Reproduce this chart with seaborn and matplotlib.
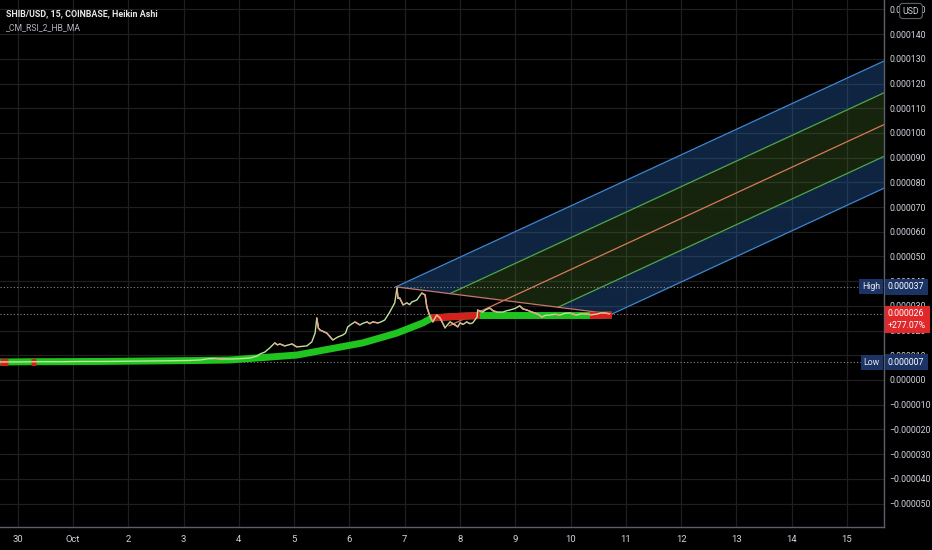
#!/usr/bin/env python3
"""SHIB/USD 15m Heikin Ashi chart with MA ribbon and a pitchfork, TradingView dark style."""

import matplotlib
matplotlib.use("Agg")
import matplotlib.pyplot as plt
import matplotlib.transforms as mtransforms
from matplotlib.ticker import FixedLocator, FuncFormatter
import pandas as pd
import seaborn as sns

# ---- data (days since Oct 1 00:00, price in USD) ----
price_day = [-1.32, -1.0, -0.6, -0.2, 0.2, 0.6, 1.0, 1.4, 1.8, 2.1, 2.3, 2.45, 2.57, 2.7,
             2.84, 3.0, 3.2, 3.33, 3.38, 3.47, 3.56, 3.65, 3.70, 3.74, 3.83, 3.90, 3.96,
             4.05, 4.14, 4.23, 4.32, 4.38, 4.41, 4.44, 4.47, 4.53, 4.59, 4.65, 4.70, 4.79,
             4.88, 4.93, 4.97, 5.03, 5.10, 5.19, 5.25, 5.32, 5.37, 5.42, 5.52, 5.58, 5.64,
             5.73, 5.82, 5.86, 5.88, 5.91, 5.97, 6.04, 6.09, 6.13, 6.18, 6.22, 6.31, 6.37,
             6.40, 6.46, 6.51, 6.58, 6.64, 6.73, 6.78, 6.82, 6.91, 6.96, 7.00, 7.06, 7.12,
             7.18, 7.23, 7.31, 7.32, 7.41, 7.47, 7.54, 7.60, 7.67, 7.78, 7.84, 7.90, 8.00,
             8.08, 8.14, 8.21, 8.35, 8.42, 8.48, 8.55, 8.63, 8.72, 8.81, 8.90, 8.99, 9.05,
             9.11, 9.20, 9.29, 9.38, 9.48, 9.55, 9.62, 9.71]
price_val = [0.73, 0.73, 0.74, 0.74, 0.75, 0.75, 0.76, 0.77, 0.78, 0.79, 0.81, 0.86, 0.87, 0.85,
             0.85, 0.86, 0.89, 0.97, 1.05, 1.13, 1.30, 1.50, 1.42, 1.46, 1.38, 1.42, 1.46,
             1.34, 1.36, 1.38, 1.54, 1.90, 2.51, 2.10, 2.02, 1.96, 1.90, 1.75, 1.62, 1.74,
             1.82, 1.90, 2.15, 2.25, 2.35, 2.23, 2.30, 2.35, 2.28, 2.35, 2.31, 2.36, 2.43,
             2.75, 3.12, 3.72, 3.30, 3.32, 3.04, 3.12, 3.05, 3.16, 3.20, 3.24, 3.52, 3.44,
             2.96, 2.55, 2.35, 2.63, 2.51, 2.11, 2.25, 2.35, 2.23, 2.15, 2.31, 2.25, 2.35,
             2.28, 2.31, 2.55, 2.83, 2.75, 2.85, 2.91, 2.80, 2.75, 2.75, 2.80, 2.83, 2.90,
             3.00, 2.88, 2.83, 2.71, 2.65, 2.55, 2.62, 2.63, 2.66, 2.63, 2.70, 2.71, 2.66,
             2.63, 2.68, 2.67, 2.64, 2.67, 2.72, 2.71, 2.68]
price_val = [v * 1e-5 for v in price_val]

ma_day = [-1.32, -1.18, -0.76, -0.67, 0.49, 2.30, 2.84, 4.05, 5.24, 5.86, 6.33, 6.49,
          6.91, 7.36, 8.26, 9.35, 9.75]
ma_val = [0.73, 0.73, 0.74, 0.74, 0.75, 0.79, 0.81, 1.01, 1.50, 1.90, 2.31, 2.51,
          2.57, 2.61, 2.61, 2.61, 2.63]
ma_val = [v * 1e-5 for v in ma_val]
# colour of each MA segment: True = green, False = red
ma_green = [False, True, False, True, True, True, True, True, True, True, True,
            False, False, True, True, False]

# pitchfork anchors: handle, top, bottom
fork_day = [6.80, 5.84, 9.75]
fork_val = [2.19e-5, 3.77e-5, 2.67e-5]

level_high = 3.77e-5
level_last = 2.68e-5
level_low = 0.71e-5

x_ticks = list(range(-1, 15))
x_labels = ["30", "Oct", "2", "3", "4", "5", "6", "7", "8", "9", "10", "11", "12", "13", "14", "15"]
y_ticks = [i * 1e-5 for i in range(-5, 16)]

# ---- style ----
BG = "#000000"
GRID = "#1f1f1f"
TXT = "#d1d4dc"
FS = 6.3
sns.set_theme(style="dark", rc={"axes.facecolor": BG, "figure.facecolor": BG})
plt.rcParams["font.family"] = ["Roboto", "DejaVu Sans"]

fig = plt.figure(figsize=(9.32, 5.5), dpi=100)
ax = fig.add_axes([0, 23 / 550, 884 / 932, 527 / 550])
ax.set_xlim(-1.32, 14.67)
ax.set_ylim(-5.95e-5, 15.38e-5)

ax.xaxis.set_major_locator(FixedLocator(x_ticks))
ax.xaxis.set_major_formatter(FuncFormatter(lambda v, p: x_labels[x_ticks.index(int(round(v)))]))
ax.yaxis.set_major_locator(FixedLocator(y_ticks))
ax.yaxis.set_major_formatter(FuncFormatter(
    lambda v, p: ("\u2212" if v < -1e-12 else "") + f"{abs(v):.6f}"))
ax.yaxis.tick_right()
ax.tick_params(axis="both", length=0, labelsize=FS, labelcolor=TXT)
ax.tick_params(axis="y", pad=4)
ax.tick_params(axis="x", pad=6, labelsize=6.8)
ax.grid(True, color=GRID, lw=0.9)
ax.set_axisbelow(True)
for side in ["left", "top"]:
    ax.spines[side].set_visible(False)
for side in ["right", "bottom"]:
    ax.spines[side].set_color("#5d606b")
    ax.spines[side].set_linewidth(1)

# ---- pitchfork ----
p1 = (fork_day[0], fork_val[0])
p2 = (fork_day[1], fork_val[1])
p3 = (fork_day[2], fork_val[2])
mid = ((p2[0] + p3[0]) / 2, (p2[1] + p3[1]) / 2)
slope = (mid[1] - p1[1]) / (mid[0] - p1[0])
g1 = ((p2[0] + mid[0]) / 2, (p2[1] + mid[1]) / 2)
g2 = ((mid[0] + p3[0]) / 2, (mid[1] + p3[1]) / 2)
x_far = 16.0


def far(pt):
    return (x_far, pt[1] + slope * (x_far - pt[0]))


def quad(a, b, color, alpha):
    pts = [a, far(a), far(b), b]
    ax.fill([q[0] for q in pts], [q[1] for q in pts], color=color, alpha=alpha, lw=0, zorder=1)


quad(p2, g1, "#2a6ab8", 0.35)
quad(g1, g2, "#4a7a2e", 0.30)
quad(g2, p3, "#2a6ab8", 0.35)

for start, col in [(p2, "#3d86d0"), (g1, "#4fa64a"), (g2, "#4fa64a"), (p3, "#3d86d0")]:
    end = far(start)
    ax.plot([start[0], end[0]], [start[1], end[1]], color=col, lw=0.9, zorder=2)
end = far(mid)
ax.plot([p1[0], end[0]], [p1[1], end[1]], color="#d9795a", lw=0.9, zorder=2)
ax.plot([p2[0], p3[0]], [p2[1], p3[1]], color="#c9766b", lw=0.9, zorder=2)

# ---- horizontal level lines ----
for lvl in [level_high, level_last, level_low]:
    ax.axhline(lvl, color="#8c8c8c", lw=0.8, ls=(0, (1, 2)), zorder=2)

# ---- MA ribbon ----
ma = pd.DataFrame({"day": ma_day, "val": ma_val})
sns.lineplot(data=ma, x="day", y="val", color="#1fc41f", lw=5, ax=ax,
             solid_capstyle="butt", zorder=3)
for i, g in enumerate(ma_green):
    if not g:
        ax.plot(ma_day[i:i + 2], ma_val[i:i + 2], color="#d91e1e", lw=5,
                solid_capstyle="butt", zorder=3.1)

# ---- price (Heikin Ashi close line) ----
px = pd.DataFrame({"day": price_day, "val": price_val})
sns.lineplot(data=px, x="day", y="val", color="#bfe29c", lw=1.0, ax=ax, zorder=4)
for i in range(len(price_val) - 1):
    if price_val[i + 1] < price_val[i]:
        ax.plot(price_day[i:i + 2], price_val[i:i + 2], color="#e7a38e", lw=1.0, zorder=4.1)
ax.set_xlabel("")
ax.set_ylabel("")

# ---- price scale labels ----
blend = mtransforms.blended_transform_factory(ax.transAxes, ax.transData)


def tag(y, left_txt, right_txt, fc):
    if left_txt:
        ax.text(880 / 884, y, left_txt, transform=blend, ha="right", va="center",
                fontsize=FS, color="#e8e8e8", clip_on=False, zorder=10,
                bbox=dict(boxstyle="square,pad=0.35", fc=fc, ec="none"))
    ax.text(888 / 884, y, right_txt, transform=blend, ha="left", va="center",
            fontsize=FS, color="#ffffff", clip_on=False, zorder=10, linespacing=1.35,
            bbox=dict(boxstyle="square,pad=0.4", fc=fc, ec="none"))


tag(level_high, "High", "0.000037", "#1c3366")
tag(level_low, "Low", "0.000007", "#1c3366")
tag(level_last - 0.24e-5, None, "0.000026\n+277.07%", "#e0282a")

# ---- header texts ----
fig.text(6 / 932, 1 - 14 / 550, "SHIB/USD, 15, COINBASE, Heikin Ashi", color="#e6e6e6",
         fontsize=6.4, fontweight="bold", va="center", ha="left")
fig.text(6 / 932, 1 - 28 / 550, "_CM_RSI_2_HB_MA", color="#b2b5be",
         fontsize=6.2, va="center", ha="left")
fig.text(911 / 932, 1 - 11 / 550, "USD", color="#d1d4dc", fontsize=6.3, va="center", ha="center",
         zorder=20, bbox=dict(boxstyle="round,pad=0.35", fc="#000000", ec="#5d606b", lw=0.8))

fig.savefig("out.png", dpi=100, facecolor=BG)
